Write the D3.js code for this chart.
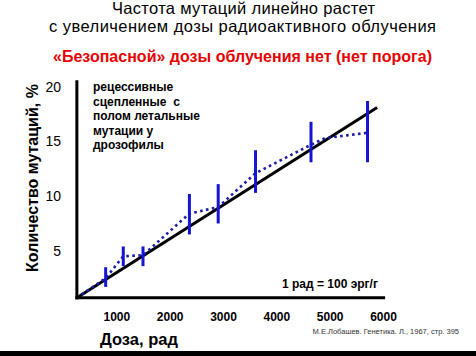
<!DOCTYPE html>
<html>
<head>
<meta charset="utf-8">
<script src="https://cdn.jsdelivr.net/npm/d3@7/dist/d3.min.js"></script>
<style>
  body { margin: 0; background: #fff; }
  svg { display: block; font-family: "Liberation Sans", Arial, sans-serif; }
</style>
</head>
<body>
<div id="chart"></div>
<script>
var width = 476,
    height = 356;

// measured points with error bars
var doses = [800, 1130, 1500, 2370, 2910, 3610, 4650, 5710];
var means = [2.5, 4.5, 4.6, 8.4, 9.0, 12.1, 14.7, 15.8];
var lows  = [1.7, 3.6, 3.6, 6.5, 7.5, 10.3, 13.1, 13.1];
var highs = [3.5, 5.4, 5.4, 10.2, 11.1, 14.2, 16.8, 18.7];

// dotted curve through the means (starts at the axis corner)
var trendDose = [260, 800, 1130, 1500, 2370, 2910, 3610, 4650, 4910, 5710];
var trendMut  = [0.7, 2.5, 4.5, 4.6, 8.4, 9.0, 12.1, 14.7, 15.3, 15.8];

// straight line
var fitDose = [260, 5890];
var fitMut  = [0.7, 18.1];

// axes
var axisDose = [260, 6040];
var axisMut  = [0.7, 20.6];
var xTicks = [1000, 2000, 3000, 4000, 5000, 6000];
var yTicks = [5, 10, 15, 20];

var svg = d3.select("#chart")
    .append("svg")
    .attr("width", width)
    .attr("height", height);

var x = d3.scaleLinear().domain([0, 6000]).range([63, 383]);
var y = d3.scaleLinear().domain([0, 20]).range([305.5, 86.8]);

// titles
svg.append("text")
    .attr("x", 112).attr("y", 14)
    .attr("textLength", 263)
    .attr("lengthAdjust", "spacing")
    .style("font-size", "16.5px")
    .text("Частота мутаций линейно растет");

svg.append("text")
    .attr("x", 49).attr("y", 32)
    .attr("textLength", 387)
    .attr("lengthAdjust", "spacing")
    .style("font-size", "16.5px")
    .text("с увеличением дозы радиоактивного облучения");

svg.append("text")
    .attr("x", 53).attr("y", 62)
    .attr("textLength", 379)
    .attr("lengthAdjust", "spacing")
    .style("font-size", "16px")
    .style("font-weight", "bold")
    .style("fill", "#e60000")
    .text("«Безопасной» дозы облучения нет (нет порога)");

// tick labels
svg.append("g")
    .attr("transform", "translate(0," + y(axisMut[0]) + ")")
    .call(d3.axisBottom(x).tickValues(xTicks).tickSize(0).tickPadding(15).tickFormat(d3.format("d")))
    .call(function (g) { g.select(".domain").remove(); })
    .selectAll("text")
    .style("font-family", "'Liberation Sans', Arial, sans-serif")
    .style("font-size", "12px")
    .style("font-weight", "bold")
    .style("fill", "#000");

svg.append("g")
    .attr("transform", "translate(64,0)")
    .call(d3.axisLeft(y).tickValues(yTicks).tickSize(0).tickPadding(3))
    .call(function (g) { g.select(".domain").remove(); })
    .selectAll("text")
    .style("font-family", "'Liberation Sans', Arial, sans-serif")
    .style("font-size", "14px")
    .style("fill", "#000");

// axis titles
svg.append("text")
    .attr("transform", "translate(38,178) rotate(-90)")
    .attr("text-anchor", "middle")
    .style("font-size", "16px")
    .style("font-weight", "bold")
    .text("Количество мутаций, %");

svg.append("text")
    .attr("x", 100).attr("y", 345)
    .style("font-size", "16.5px")
    .style("font-weight", "bold")
    .text("Доза, рад");

// fitted line
var line = d3.line()
    .x(function (d) { return x(d[0]); })
    .y(function (d) { return y(d[1]); });

svg.append("path")
    .attr("d", line(d3.zip(fitDose, fitMut)))
    .attr("fill", "none")
    .attr("stroke", "#000")
    .attr("stroke-width", 3);

// dotted trend
svg.append("path")
    .attr("d", line(d3.zip(trendDose, trendMut)))
    .attr("fill", "none")
    .attr("stroke", "#1c1ca8")
    .attr("stroke-width", 2.6)
    .attr("stroke-dasharray", "2.6,3.4");

// error bars
svg.selectAll("line.err")
    .data(doses)
    .enter()
    .append("line")
    .attr("class", "err")
    .attr("x1", function (d) { return x(d); })
    .attr("x2", function (d) { return x(d); })
    .attr("y1", function (d, i) { return y(lows[i]); })
    .attr("y2", function (d, i) { return y(highs[i]); })
    .attr("stroke", "#1414d2")
    .attr("stroke-width", 3);

// axes lines
svg.append("line")
    .attr("x1", x(axisDose[0])).attr("x2", x(axisDose[0]))
    .attr("y1", y(axisMut[1])).attr("y2", y(axisMut[0]) + 1.5)
    .attr("stroke", "#000").attr("stroke-width", 3);

svg.append("line")
    .attr("x1", x(axisDose[0]) - 1.5).attr("x2", x(axisDose[1]))
    .attr("y1", y(axisMut[0])).attr("y2", y(axisMut[0]))
    .attr("stroke", "#000").attr("stroke-width", 3);

// annotation
var note = ["рецессивные", "сцепленные  с", "полом летальные", "мутации у", "дрозофилы"];
svg.append("text")
    .attr("x", 93).attr("y", 91)
    .style("font-size", "12px")
    .style("font-weight", "bold")
    .style("white-space", "pre")
    .selectAll("tspan")
    .data(note)
    .enter()
    .append("tspan")
    .attr("x", 93)
    .attr("dy", function (d, i) { return i ? 14.6 : 0; })
    .text(function (d) { return d; });

svg.append("text")
    .attr("x", 282).attr("y", 288)
    .style("font-size", "12px")
    .style("font-weight", "bold")
    .text("1 рад = 100 эрг/г");

svg.append("text")
    .attr("x", 459).attr("y", 334)
    .attr("text-anchor", "end")
    .style("font-size", "7.5px")
    .style("fill", "#333")
    .text("М.Е.Лобашев. Генетика. Л., 1967, стр. 395");

// bottom band
svg.append("rect")
    .attr("x", 0).attr("y", 351)
    .attr("width", width).attr("height", 5)
    .attr("fill", "#000");
</script>
</body>
</html>
